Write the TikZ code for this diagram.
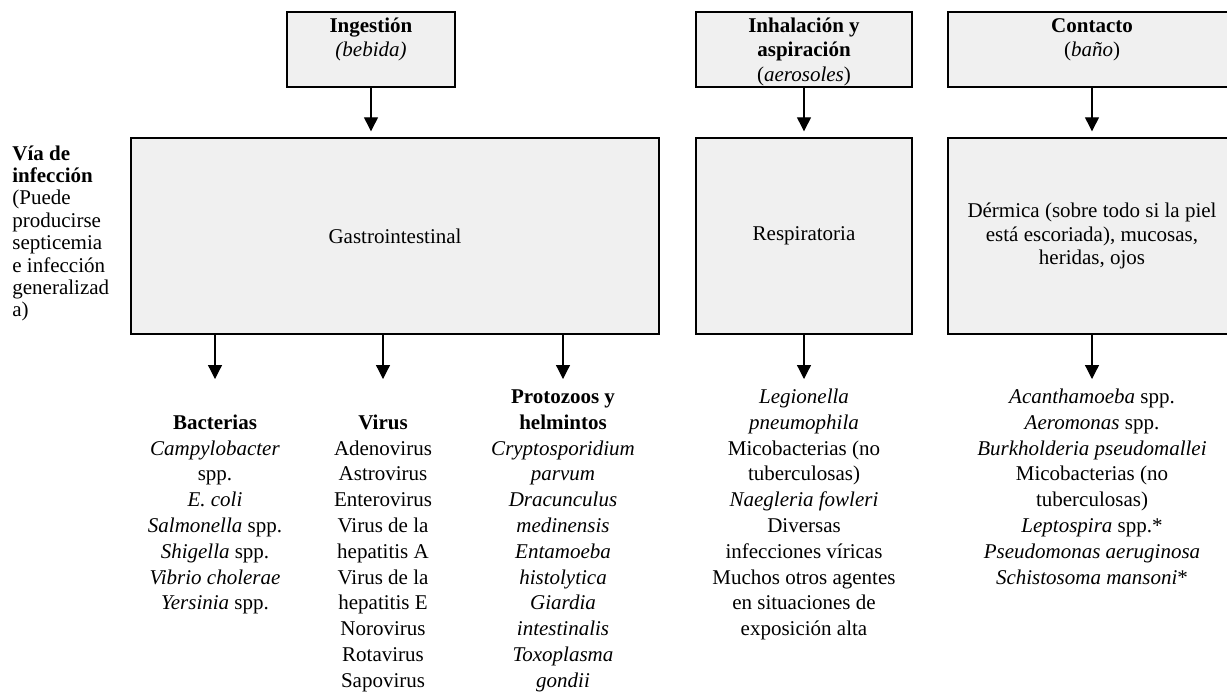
\documentclass[tikz,border=0pt]{standalone}
\usepackage{fontspec}
\setmainfont{Liberation Serif}
\usepackage{tikz}
\usetikzlibrary{positioning}
\usetikzlibrary{arrows.meta}

\definecolor{boxgray}{RGB}{240,240,240}

\begin{document}
\begin{tikzpicture}[x=0.5pt, y=-0.5pt,
        every node/.style={font=\fontsize{10.5}{12.9}\selectfont, inner sep=0pt},
        box/.style={draw, line width=0.7pt, fill=boxgray},
        topbox/.style={box, minimum height=37.5pt},
        midbox/.style={box, minimum height=98pt, align=center},
        boxtext/.style={align=center, font=\fontsize{10.5}{12.4}\selectfont},
        list/.style={align=center, anchor=north},
        >={Triangle[width=7pt,length=7pt]}, shorten >=3pt]
        % \draw[help lines] (0,0) grid (1227,693);
      \useasboundingbox (0,0) rectangle (1227,693);

      % vias de exposicion
      \node[topbox, minimum width=84pt]  (ing) at (371,49.5)  {};
      \node[topbox, minimum width=108pt] (inh) at (804,49.5)  {};
      \node[topbox, minimum width=144pt] (con) at (1092,49.5) {};

      \node[boxtext, below=1.5pt of ing.north] (ing_t) {\strut\textbf{Ingestión}\\ \textit{(bebida)}};
      \node[boxtext, below=1.5pt of inh.north] (inh_t) {\strut\textbf{Inhalación y}\\ \textbf{aspiración}\\ (\textit{aerosoles})};
      \node[boxtext, below=1.5pt of con.north] (con_t) {\strut\textbf{Contacto}\\ (\textit{baño})};

      % vias de infeccion
      \node[midbox, minimum width=264pt] (gastro) at (395,236)  {Gastrointestinal};
      \node[midbox, minimum width=108pt] (resp)   at (804,236)  {Respiratoria};
      \node[midbox, minimum width=144pt, font=\fontsize{10.5}{11.75}\selectfont]
                                         (derm)   at (1092,236) {Dérmica (sobre todo si la piel\\ está escoriada), mucosas,\\ heridas, ojos};

      \node[anchor=north west, align=left, font=\fontsize{10.5}{11.2}\selectfont] (via) at (12,145)
            {\textbf{Vía de}\\ \textbf{infección}\\ (Puede\\ producirse\\ septicemia\\ e infección\\ generalizad\\ a)};

      % agentes
      \node[list] (bact) at (215,385) {\strut\\ \textbf{Bacterias}\\ \textit{Campylobacter}\\ spp.\\ \textit{E. coli}\\
            \textit{Salmonella} spp.\\ \textit{Shigella} spp.\\ \textit{Vibrio cholerae}\\ \textit{Yersinia} spp.};
      \node[list] (vir)  at (383,385) {\strut\\ \textbf{Virus}\\ Adenovirus\\ Astrovirus\\ Enterovirus\\ Virus de la\\
            hepatitis A\\ Virus de la\\ hepatitis E\\ Norovirus\\ Rotavirus\\ Sapovirus};
      \node[list] (prot) at (563,385) {\strut\textbf{Protozoos y}\\ \textbf{helmintos}\\ \textit{Cryptosporidium}\\ \textit{parvum}\\
            \textit{Dracunculus}\\ \textit{medinensis}\\ \textit{Entamoeba}\\ \textit{histolytica}\\ \textit{Giardia}\\
            \textit{intestinalis}\\ \textit{Toxoplasma}\\ \textit{gondii}};
      \node[list] (resp_l) at (804,385) {\strut\textit{Legionella}\\ \textit{pneumophila}\\ Micobacterias (no\\ tuberculosas)\\
            \textit{Naegleria fowleri}\\ Diversas\\ infecciones víricas\\ Muchos otros agentes\\ en situaciones de\\ exposición alta};
      \node[list] (derm_l) at (1092,385) {\strut\textit{Acanthamoeba} spp.\\ \textit{Aeromonas} spp.\\ \textit{Burkholderia pseudomallei}\\
            Micobacterias (no\\ tuberculosas)\\ \textit{Leptospira} spp.*\\ \textit{Pseudomonas aeruginosa}\\ \textit{Schistosoma mansoni}*};

      \path[->, line width=0.6pt]
                (ing.south)                   edge (ing.south |- gastro.north)
                (inh)                         edge (resp)
                (con)                         edge (derm)
                (gastro.south -| bact.north)  edge (bact.north)
                (gastro.south -| vir.north)   edge (vir.north)
                (gastro.south -| prot.north)  edge (prot.north)
                (resp)                        edge (resp_l.north)
                (derm)                        edge (derm_l.north)
                ;
\end{tikzpicture}
\end{document}
